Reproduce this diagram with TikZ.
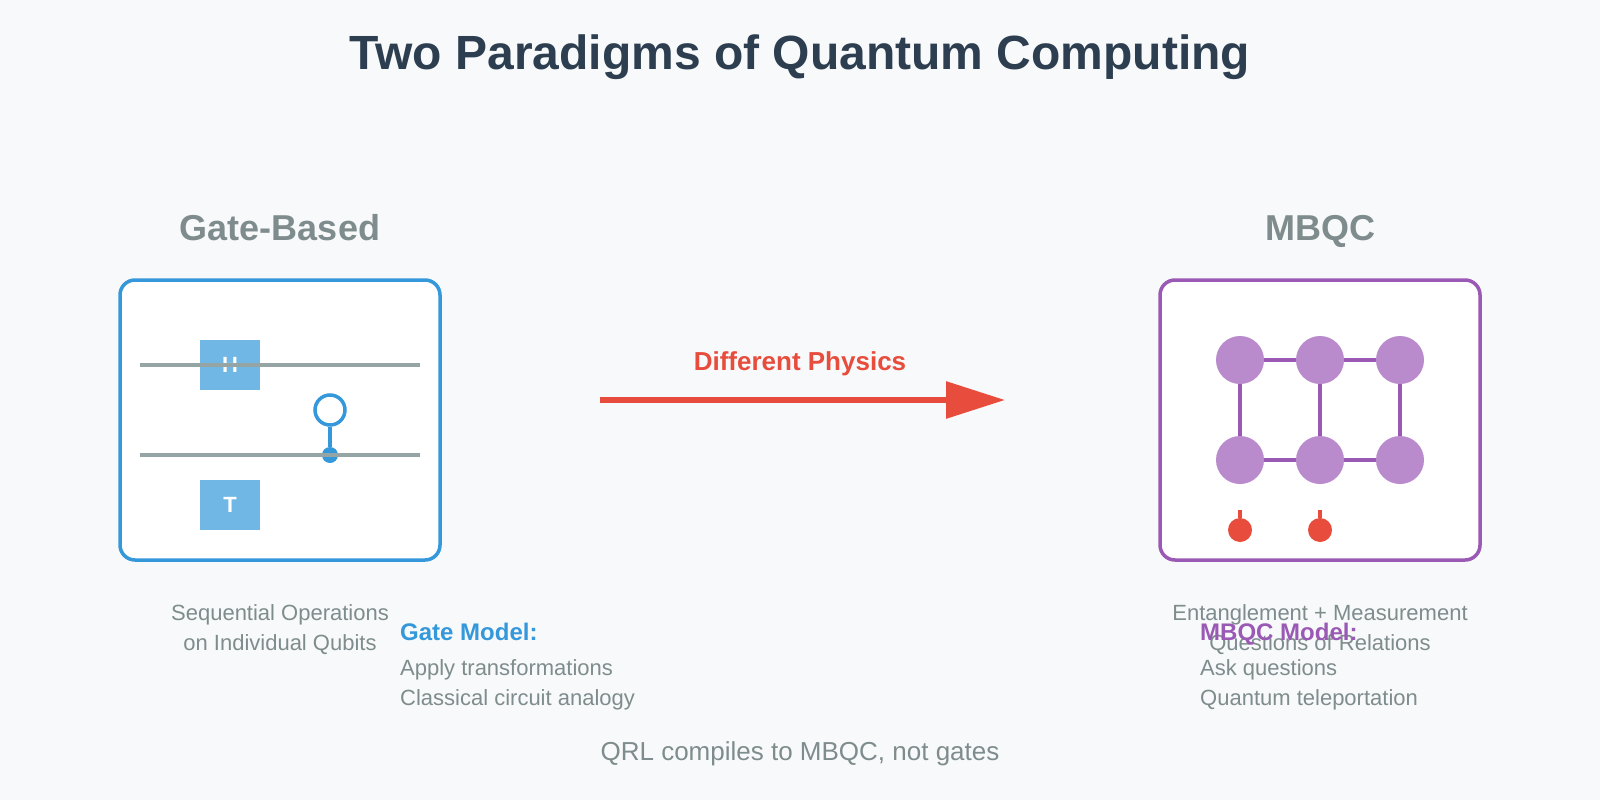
\documentclass[tikz,border=0pt]{standalone}
\usepackage{fontspec}
\setmainfont{Liberation Sans}
\usepackage{xcolor}
\usepackage{tikz}
\usetikzlibrary{arrows.meta}

\definecolor{bgcol}{HTML}{F8F9FA}
\definecolor{titlecol}{HTML}{2C3E50}
\definecolor{graycol}{HTML}{7F8C8D}
\definecolor{wirecol}{HTML}{95A5A6}
\definecolor{gatecol}{HTML}{3498DB}
\definecolor{gatefill}{RGB}{113,183,230}
\definecolor{mbqccol}{HTML}{9B59B6}
\definecolor{qubitfill}{RGB}{185,139,204}
\definecolor{redcol}{HTML}{E74C3C}

\begin{document}
\begin{tikzpicture}[x=1pt,y=-1pt,
    txt/.style={inner sep=0pt,anchor=base},
    panel/.style={draw,fill=white,line width=3.5pt,rounded corners=15pt,minimum width=320pt,minimum height=280pt},
    gate/.style={fill=gatefill,minimum width=60pt,minimum height=50pt,inner sep=0pt,text=white,font=\fontsize{22}{26}\selectfont\bfseries},
    wire/.style={draw=wirecol,line width=3.5pt},
    qubit/.style={shape=circle,fill=qubitfill,minimum size=48pt,inner sep=0pt},
    bond/.style={draw=mbqccol,line width=4pt},
    meas/.style={shape=circle,fill=redcol,minimum size=24pt,inner sep=0pt}]
    \path[use as bounding box,fill=bgcol] (0,0) rectangle (1600,800);

    \node[txt,text=titlecol,font=\fontsize{48}{58}\selectfont\bfseries] (title) at (800,70) {Two Paradigms of Quantum Computing};
    \node[txt,text=graycol,font=\fontsize{36}{42}\selectfont\bfseries] (gatehead) at (280,240) {Gate-Based};
    \node[txt,text=graycol,font=\fontsize{36}{42}\selectfont\bfseries] (mbqchead) at (1320,240) {MBQC};

    % gate-based circuit
    \node[panel,draw=gatecol] (gatebox) at (280,420) {};
    \node[gate] (H) at (230,365) {H};
    \node[gate] (T) at (230,505) {T};
    \node[shape=circle,draw=gatecol,line width=3.5pt,fill=white,minimum size=30pt,inner sep=0pt] (targ) at (330,410) {};
    \node[shape=circle,fill=gatecol,minimum size=16pt,inner sep=0pt] (ctrl) at (330,455) {};
    \path [draw=gatecol,line width=3.5pt](targ) edge (ctrl);
    \coordinate (w1a) at (140,365);
    \coordinate (w1b) at (420,365);
    \coordinate (w2a) at (140,455);
    \coordinate (w2b) at (420,455);
    \path [wire](w1a) edge (w1b);
    \path [wire](w2a) edge (w2b);

    % arrow
    \coordinate (arrowstart) at (600,400);
    \coordinate (arrowend) at (1005,400);
    \draw[redcol,line width=6pt,-{Triangle[length=59pt,width=36pt]}] (arrowstart) -- (arrowend);
    \node[txt,text=redcol,font=\fontsize{26}{30}\selectfont\bfseries] (physics) at (800,370) {Different Physics};

    % cluster state
    \node[panel,draw=mbqccol] (mbqcbox) at (1320,420) {};
    \node[qubit] (q1) at (1240,360) {};
    \node[qubit] (q2) at (1320,360) {};
    \node[qubit] (q3) at (1400,360) {};
    \node[qubit] (q4) at (1240,460) {};
    \node[qubit] (q5) at (1320,460) {};
    \node[qubit] (q6) at (1400,460) {};
    \path [bond](q1) edge (q2);
    \path [bond](q2) edge (q3);
    \path [bond](q4) edge (q5);
    \path [bond](q5) edge (q6);
    \path [bond](q1) edge (q4);
    \path [bond](q2) edge (q5);
    \path [bond](q3) edge (q6);
    \node[meas] (m1) at (1240,530) {};
    \node[meas] (m2) at (1320,530) {};
    \coordinate (m1top) at (1240,510);
    \coordinate (m2top) at (1320,510);
    \path [draw=redcol,line width=3.5pt](m1top) edge (m1);
    \path [draw=redcol,line width=3.5pt](m2top) edge (m2);

    % captions
    \node[txt,text=graycol,font=\fontsize{22}{26}\selectfont] (seq1) at (280,620) {Sequential Operations};
    \node[txt,text=graycol,font=\fontsize{22}{26}\selectfont] (seq2) at (280,650) {on Individual Qubits};
    \node[txt,text=graycol,font=\fontsize{22}{26}\selectfont] (ent1) at (1320,620) {Entanglement + Measurement};
    \node[txt,text=graycol,font=\fontsize{22}{26}\selectfont] (ent2) at (1320,650) {Questions of Relations};

    \node[txt,anchor=base west,text=gatecol,font=\fontsize{24}{28}\selectfont\bfseries] (gatemodel) at (400,640) {Gate Model:};
    \node[txt,anchor=base west,text=graycol,font=\fontsize{22}{26}\selectfont] (gm1) at (400,675) {Apply transformations};
    \node[txt,anchor=base west,text=graycol,font=\fontsize{22}{26}\selectfont] (gm2) at (400,705) {Classical circuit analogy};
    \node[txt,anchor=base west,text=mbqccol,font=\fontsize{24}{28}\selectfont\bfseries] (mbqcmodel) at (1200,640) {MBQC Model:};
    \node[txt,anchor=base west,text=graycol,font=\fontsize{22}{26}\selectfont] (mm1) at (1200,675) {Ask questions};
    \node[txt,anchor=base west,text=graycol,font=\fontsize{22}{26}\selectfont] (mm2) at (1200,705) {Quantum teleportation};

    \node[txt,text=graycol,font=\fontsize{26}{30}\selectfont] (footer) at (800,760) {QRL compiles to MBQC, not gates};
\end{tikzpicture}
\end{document}
